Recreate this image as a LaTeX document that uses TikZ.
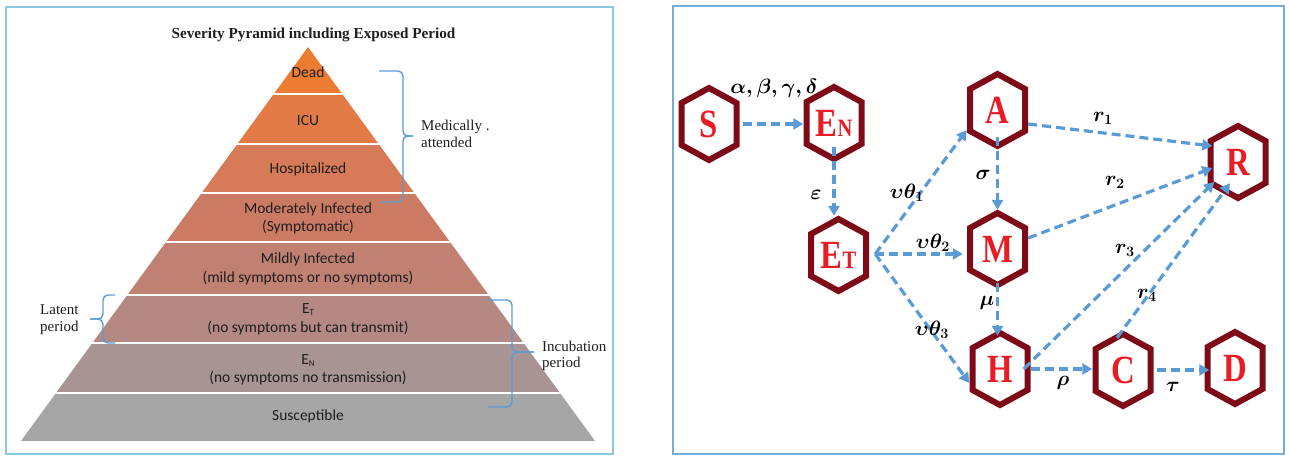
\documentclass[tikz,border=0pt]{standalone}
\usepackage{fontspec}
\usepackage{graphicx}
\setmainfont{Liberation Serif}
\newfontfamily\calib{Carlito}
\usetikzlibrary{arrows.meta,calc}
\definecolor{frameL}{RGB}{140,200,228}
\definecolor{frameR}{RGB}{120,170,220}
\definecolor{arrowb}{RGB}{91,155,213}
\definecolor{hexc}{RGB}{125,10,22}
\definecolor{hexred}{RGB}{232,28,36}
\definecolor{bdead}{RGB}{235,124,50}
\definecolor{bicu}{RGB}{225,122,68}
\definecolor{bhosp}{RGB}{214,122,88}
\definecolor{bmod}{RGB}{203,123,100}
\definecolor{bmild}{RGB}{192,128,114}
\definecolor{bet}{RGB}{180,137,131}
\definecolor{ben}{RGB}{169,148,148}
\definecolor{bsus}{RGB}{166,166,166}
\definecolor{txt}{RGB}{30,30,30}
\definecolor{bracec}{RGB}{91,155,213}
\newcommand\hx[1]{\scalebox{0.82}[1]{#1}}
\newcommand\smallsub[1]{\raisebox{-2.5pt}{\fontsize{9}{9}\selectfont #1}}
\begin{document}
\begin{tikzpicture}[x=1pt,y=-1pt,
  pyr/.style={font=\calib\fontsize{15.5}{19}\selectfont, text=txt, inner sep=0pt, anchor=base},
  side/.style={font=\rmfamily\fontsize{15}{18}\selectfont, text=txt, inner sep=0pt, anchor=base west},
  bracket/.style={draw=bracec, line width=1.4pt, rounded corners=5pt},
  hexnode/.style={minimum width=61pt, minimum height=78pt, inner sep=0pt,
    font=\rmfamily\bfseries\fontsize{40}{40}\selectfont, text=hexred},
  hexline/.style={draw=hexc, line width=6pt, line join=miter},
  flow/.style={draw=arrowb, line width=3.2pt, dash pattern=on 9pt off 5pt,
    -{Triangle[length=10pt,width=11pt]}},
  lab/.style={font=\boldmath\fontsize{22}{22}\selectfont, text=black, inner sep=0pt}]
\useasboundingbox (0,0) rectangle (1290,456);
% ---------------- left panel ----------------
\draw[frameL, line width=2pt] (6,7) rectangle (613,454);
\node[anchor=base, font=\rmfamily\bfseries\fontsize{15.2}{18}\selectfont, text=txt, inner sep=0pt] (title) at (313.5,38) {Severity Pyramid including Exposed Period};
\begin{scope}
  \clip (308,47) -- (595,441) -- (21,441) -- cycle;
  \fill[bdead] (0,40) rectangle (620,94);
  \fill[bicu] (0,94) rectangle (620,144);
  \fill[bhosp] (0,144) rectangle (620,193);
  \fill[bmod] (0,193) rectangle (620,242);
  \fill[bmild] (0,242) rectangle (620,295);
  \fill[bet] (0,295) rectangle (620,343);
  \fill[ben] (0,343) rectangle (620,393);
  \fill[bsus] (0,393) rectangle (620,441);
  \foreach \yy in {94,144,193,242,295,343,393}
    \draw[white, line width=1.8pt] (0,\yy) -- (620,\yy);
\end{scope}
\node[pyr] (tDead) at (308,77) {Dead};
\node[pyr] (tICU) at (308,125) {ICU};
\node[pyr] (tHosp) at (308,173.5) {Hospitalized};
\node[pyr] (tMod1) at (308,213) {Moderately Infected};
\node[pyr] (tMod2) at (308,231) {(Symptomatic)};
\node[pyr] (tMild1) at (308,263) {Mildly Infected};
\node[pyr] (tMild2) at (308,282) {(mild symptoms or no symptoms)};
\node[pyr] (tET1) at (308,313) {E\smallsub{T}};
\node[pyr] (tET2) at (308,332) {(no symptoms but can transmit)};
\node[pyr] (tEN1) at (308,364) {E\smallsub{N}};
\node[pyr] (tEN2) at (308,382) {(no symptoms no transmission)};
\node[pyr] (tSus) at (308,420) {Susceptible};
% braces
\draw[bracket] (379,71) -- (403,71) -- (403,136) -- (413,136);
\draw[bracket] (380,202) -- (403,202) -- (403,136) -- (413,136);
\node[side] (med1) at (421,130) {Medically .};
\node[side] (med2) at (421,147) {attended};
\draw[bracket] (115,295) -- (103,295) -- (103,319) -- (90,319);
\draw[bracket] (115,343) -- (103,343) -- (103,319) -- (90,319);
\node[side] (lat1) at (40,314) {Latent};
\node[side] (lat2) at (40,331) {period};
\draw[bracket] (488,300) -- (512,300) -- (512,352) -- (534,352);
\draw[bracket] (488,407) -- (512,407) -- (512,352) -- (534,352);
\node[side] (inc1) at (542,351) {Incubation};
\node[side] (inc2) at (542,367) {period};
% ---------------- right panel ----------------
\draw[frameR, line width=2pt] (672.7,6) rectangle (1283.5,454);
\node[hexnode] (S) at (709,124) {\hx{S}};
\node[hexnode] (EN) at (834,123) {\hx{E{\fontsize{25}{25}\selectfont N}}};
\node[hexnode] (A) at (997.5,110) {\hx{A}};
\node[hexnode] (R) at (1238,162) {\hx{R}};
\node[hexnode] (ET) at (838.5,255) {\hx{E{\fontsize{25}{25}\selectfont T}}};
\node[hexnode] (M) at (997.5,249) {\hx{M}};
\node[hexnode] (H) at (1000,369) {\hx{H}};
\node[hexnode] (C) at (1123,370) {\hx{C}};
\node[hexnode] (D) at (1235,368) {\hx{D}};
\foreach \n in {S,EN,A,R,ET,M,H,C,D}
  \draw[hexline] ([shift={(0,-36)}]\n.center) -- ([shift={(27.5,-21)}]\n.center)
    -- ([shift={(27.5,21)}]\n.center) -- ([shift={(0,36)}]\n.center)
    -- ([shift={(-27.5,21)}]\n.center) -- ([shift={(-27.5,-21)}]\n.center) -- cycle;
% helper coordinates
\coordinate (ETr) at ([xshift=6pt,yshift=1pt]ET.east);
\coordinate (Htop) at ([yshift=-6pt]H.north);
\coordinate (Dw) at ([xshift=5pt]D.west);
% arrows
\draw[flow, shorten <=3pt] (S.east) -- (S.east -| EN.west);
\draw[flow] ([yshift=-24pt]EN.center) -- (EN.center |- ET.north);
\draw[flow] (ETr) -- ([yshift=-20pt]A.west);
\draw[flow, shorten >=4pt] (ETr) -- (ETr -| M.west);
\draw[flow] (ETr) -- ([yshift=-14pt]H.west);
\draw[flow] ([yshift=-27pt]A.center) -- (M.north);
\draw[flow] ([yshift=-34pt]M.center) -- (M.center |- Htop);
\draw[flow] (H.east) -- (H.east -| C.west);
\draw[flow, shorten <=3.5pt] (C.east) -- (C.east -| Dw);
\draw[flow] ([yshift=-14pt]A.east) -- ([xshift=5pt,yshift=16pt]R.west);
\draw[flow] ([yshift=11pt]M.east) -- ([xshift=5pt,yshift=-6pt]R.west);
\draw[flow] ([xshift=-7pt]H.east) -- ([xshift=7pt,yshift=-20pt]R.west);
\draw[flow] ([xshift=-6pt,yshift=-7pt]C.north) -- ([xshift=-8pt,yshift=18pt]R.south);
% labels
\node[lab, font=\boldmath\fontsize{20}{20}\selectfont] (lS) at (774,88) {$\alpha,\beta,\gamma,\delta$};
\node[lab] (lE) at (816,195) {$\varepsilon$};
\node[lab] (lT1) at (907,193) {$\upsilon\theta_1$};
\node[lab] (lT2) at (933,243) {$\upsilon\theta_2$};
\node[lab] (lT3) at (932,330) {$\upsilon\theta_3$};
\node[lab] (lsig) at (983,175) {$\sigma$};
\node[lab] (lmu) at (987,303) {$\mu$};
\node[lab] (lr1) at (1103,118) {$r_1$};
\node[lab] (lr2) at (1115,182) {$r_2$};
\node[lab] (lr3) at (1125,250) {$r_3$};
\node[lab] (lr4) at (1147,295) {$r_4$};
\node[lab] (lrho) at (1063,383) {$\rho$};
\node[lab] (ltau) at (1173,387) {$\tau$};
\end{tikzpicture}
\end{document}
